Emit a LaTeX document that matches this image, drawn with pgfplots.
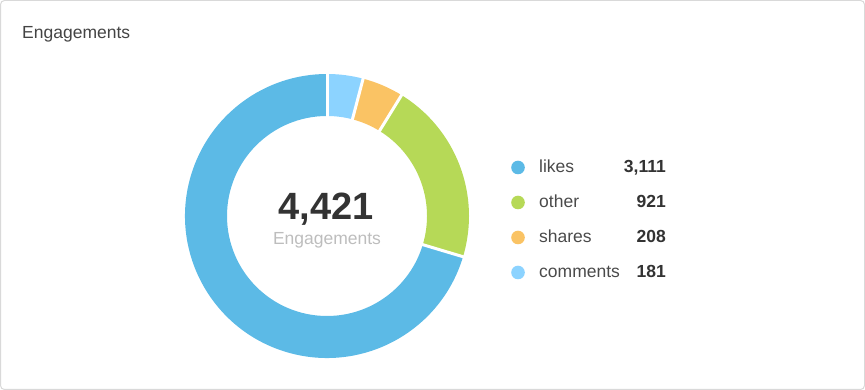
\documentclass[border=0pt]{standalone}
\usepackage{pgfplots}
\pgfplotsset{compat=1.18}
\usepackage{pgfplotstable}
\usepackage{fontspec}
\setmainfont{Liberation Sans}
\definecolor{clikes}{HTML}{5CBAE6}
\definecolor{cother}{HTML}{B6D957}
\definecolor{cshares}{HTML}{FAC364}
\definecolor{ccomments}{HTML}{8CD3FF}
\definecolor{ctitle}{HTML}{444444}
\definecolor{clabel}{HTML}{4A4A4A}
\definecolor{cvalue}{HTML}{333333}
\definecolor{csub}{HTML}{BDBDBD}
\definecolor{ccard}{HTML}{D9D9D9}
\pgfkeys{/pgf/number format/.cd,1000 sep={,},assume math mode=true}
\newcommand{\fs}{\fontsize{17.5}{20}\selectfont}
\pgfplotstableread{
label value
likes 3111
other 921
shares 208
comments 181
}\engdata
\begin{document}
\begin{tikzpicture}[every node/.style={inner sep=0pt}]
\pgfplotstablegetelem{0}{value}\of\engdata \pgfmathtruncatemacro\vLikes{\pgfplotsretval}
\pgfplotstablegetelem{1}{value}\of\engdata \pgfmathtruncatemacro\vOther{\pgfplotsretval}
\pgfplotstablegetelem{2}{value}\of\engdata \pgfmathtruncatemacro\vShares{\pgfplotsretval}
\pgfplotstablegetelem{3}{value}\of\engdata \pgfmathtruncatemacro\vComments{\pgfplotsretval}
\pgfmathtruncatemacro\total{\vLikes+\vOther+\vShares+\vComments}
\pgfmathsetmacro\aA{90}
\pgfmathsetmacro\aB{\aA-360*(\vComments/\total)}
\pgfmathsetmacro\aC{\aB-360*(\vShares/\total)}
\pgfmathsetmacro\aD{\aC-360*(\vOther/\total)}
\pgfmathsetmacro\aE{\aD-360*(\vLikes/\total)}
\begin{axis}[x=1pt,y=1pt,xmin=0,xmax=865,ymin=0,ymax=390,hide axis,clip=false]
% card
\draw[ccard, rounded corners=4pt, line width=1pt] (axis cs:0.5,0.5) rectangle (axis cs:864.5,389.5);
\node[anchor=base west, text=ctitle, font=\fs] at (axis cs:22,351) {Engagements};
% donut
\fill[ccomments] (axis cs:327,174) ++(\aA:142pt) arc[start angle=\aA,end angle=\aB,radius=142pt] -- ++(\aB:-42pt) arc[start angle=\aB,end angle=\aA,radius=100pt] -- cycle;
\fill[cshares] (axis cs:327,174) ++(\aB:142pt) arc[start angle=\aB,end angle=\aC,radius=142pt] -- ++(\aC:-42pt) arc[start angle=\aC,end angle=\aB,radius=100pt] -- cycle;
\fill[cother] (axis cs:327,174) ++(\aC:142pt) arc[start angle=\aC,end angle=\aD,radius=142pt] -- ++(\aD:-42pt) arc[start angle=\aD,end angle=\aC,radius=100pt] -- cycle;
\fill[clikes] (axis cs:327,174) ++(\aD:142pt) arc[start angle=\aD,end angle=\aE,radius=142pt] -- ++(\aE:-42pt) arc[start angle=\aE,end angle=\aD,radius=100pt] -- cycle;
\draw[white, line width=3pt] (axis cs:327,174) ++(\aA:96pt) -- ++(\aA:50pt);
\draw[white, line width=3pt] (axis cs:327,174) ++(\aB:96pt) -- ++(\aB:50pt);
\draw[white, line width=3pt] (axis cs:327,174) ++(\aC:96pt) -- ++(\aC:50pt);
\draw[white, line width=3pt] (axis cs:327,174) ++(\aD:96pt) -- ++(\aD:50pt);
% centre
\node[anchor=base, text=cvalue, font=\fontsize{38}{40}\selectfont\bfseries] at (axis cs:326,170) {\pgfmathprintnumber{\total}};
\node[anchor=base, text=csub, font=\fs] at (axis cs:327,145) {Engagements};
% legend
\fill[clikes] (axis cs:518,222.5) circle[radius=6.8pt];
\fill[cother] (axis cs:518,187.5) circle[radius=6.8pt];
\fill[cshares] (axis cs:518,152.5) circle[radius=6.8pt];
\fill[ccomments] (axis cs:518,117.5) circle[radius=6.8pt];
\node[anchor=base west, text=clabel, font=\fs] at (axis cs:539,217) {likes};
\node[anchor=base west, text=clabel, font=\fs] at (axis cs:539,182) {other};
\node[anchor=base west, text=clabel, font=\fs] at (axis cs:539,147) {shares};
\node[anchor=base west, text=clabel, font=\fs] at (axis cs:539,112) {comments};
\node[anchor=base east, text=cvalue, font=\fs\bfseries] at (axis cs:666,217) {\pgfmathprintnumber{\vLikes}};
\node[anchor=base east, text=cvalue, font=\fs\bfseries] at (axis cs:666,182) {\pgfmathprintnumber{\vOther}};
\node[anchor=base east, text=cvalue, font=\fs\bfseries] at (axis cs:666,147) {\pgfmathprintnumber{\vShares}};
\node[anchor=base east, text=cvalue, font=\fs\bfseries] at (axis cs:666,112) {\pgfmathprintnumber{\vComments}};
\end{axis}
\end{tikzpicture}
\end{document}
